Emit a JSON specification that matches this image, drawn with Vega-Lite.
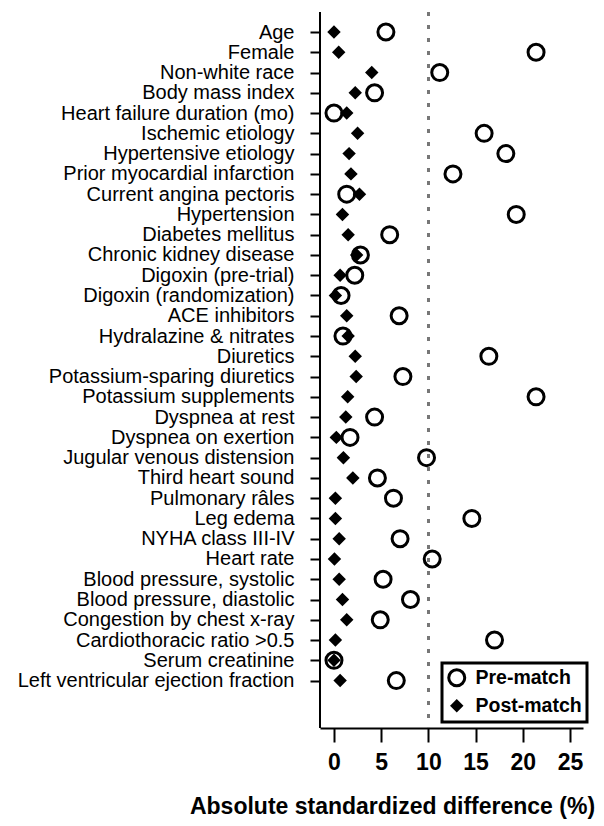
{
  "$schema": "https://vega.github.io/schema/vega-lite/v6.json",
  "width": 263,
  "height": 716,
  "autosize": {"type": "none"},
  "padding": {"left": 320, "top": 12, "right": 21, "bottom": 98},
  "background": "white",
  "config": {
    "view": {"stroke": null},
    "font": "Liberation Sans",
    "axis": {
      "grid": false,
      "domainColor": "black",
      "domainWidth": 2,
      "tickColor": "black",
      "tickWidth": 2,
      "labelColor": "black",
      "titleColor": "black",
      "labelFont": "Liberation Sans",
      "titleFont": "Liberation Sans"
    },
    "legend": {"strokeWidth": 3}
  },
  "data": {
    "values": [
      {"variable": "Age", "match": "Post-match", "diff": 0.0},
      {"variable": "Age", "match": "Pre-match", "diff": 5.5},
      {"variable": "Female", "match": "Post-match", "diff": 0.5},
      {"variable": "Female", "match": "Pre-match", "diff": 21.4},
      {"variable": "Non-white race", "match": "Post-match", "diff": 4.0},
      {"variable": "Non-white race", "match": "Pre-match", "diff": 11.2},
      {"variable": "Body mass index", "match": "Post-match", "diff": 2.25},
      {"variable": "Body mass index", "match": "Pre-match", "diff": 4.3},
      {"variable": "Heart failure duration (mo)", "match": "Post-match", "diff": 1.35},
      {"variable": "Heart failure duration (mo)", "match": "Pre-match", "diff": 0.0},
      {"variable": "Ischemic etiology", "match": "Post-match", "diff": 2.5},
      {"variable": "Ischemic etiology", "match": "Pre-match", "diff": 15.9},
      {"variable": "Hypertensive etiology", "match": "Post-match", "diff": 1.6},
      {"variable": "Hypertensive etiology", "match": "Pre-match", "diff": 18.2},
      {"variable": "Prior myocardial infarction", "match": "Post-match", "diff": 1.8},
      {"variable": "Prior myocardial infarction", "match": "Pre-match", "diff": 12.6},
      {"variable": "Current angina pectoris", "match": "Post-match", "diff": 2.7},
      {"variable": "Current angina pectoris", "match": "Pre-match", "diff": 1.35},
      {"variable": "Hypertension", "match": "Post-match", "diff": 0.9},
      {"variable": "Hypertension", "match": "Pre-match", "diff": 19.3},
      {"variable": "Diabetes mellitus", "match": "Post-match", "diff": 1.5},
      {"variable": "Diabetes mellitus", "match": "Pre-match", "diff": 5.9},
      {"variable": "Chronic kidney disease", "match": "Post-match", "diff": 2.4},
      {"variable": "Chronic kidney disease", "match": "Pre-match", "diff": 2.8},
      {"variable": "Digoxin (pre-trial)", "match": "Post-match", "diff": 0.65},
      {"variable": "Digoxin (pre-trial)", "match": "Pre-match", "diff": 2.2},
      {"variable": "Digoxin (randomization)", "match": "Post-match", "diff": 0.15},
      {"variable": "Digoxin (randomization)", "match": "Pre-match", "diff": 0.75},
      {"variable": "ACE inhibitors", "match": "Post-match", "diff": 1.35},
      {"variable": "ACE inhibitors", "match": "Pre-match", "diff": 6.9},
      {"variable": "Hydralazine & nitrates", "match": "Post-match", "diff": 1.5},
      {"variable": "Hydralazine & nitrates", "match": "Pre-match", "diff": 0.95},
      {"variable": "Diuretics", "match": "Post-match", "diff": 2.25},
      {"variable": "Diuretics", "match": "Pre-match", "diff": 16.4},
      {"variable": "Potassium-sparing diuretics", "match": "Post-match", "diff": 2.35},
      {"variable": "Potassium-sparing diuretics", "match": "Pre-match", "diff": 7.3},
      {"variable": "Potassium supplements", "match": "Post-match", "diff": 1.45},
      {"variable": "Potassium supplements", "match": "Pre-match", "diff": 21.4},
      {"variable": "Dyspnea at rest", "match": "Post-match", "diff": 1.25},
      {"variable": "Dyspnea at rest", "match": "Pre-match", "diff": 4.3},
      {"variable": "Dyspnea on exertion", "match": "Post-match", "diff": 0.25},
      {"variable": "Dyspnea on exertion", "match": "Pre-match", "diff": 1.7},
      {"variable": "Jugular venous distension", "match": "Post-match", "diff": 1.0},
      {"variable": "Jugular venous distension", "match": "Pre-match", "diff": 9.8},
      {"variable": "Third heart sound", "match": "Post-match", "diff": 2.0},
      {"variable": "Third heart sound", "match": "Pre-match", "diff": 4.6},
      {"variable": "Pulmonary râles", "match": "Post-match", "diff": 0.15},
      {"variable": "Pulmonary râles", "match": "Pre-match", "diff": 6.3},
      {"variable": "Leg edema", "match": "Post-match", "diff": 0.15},
      {"variable": "Leg edema", "match": "Pre-match", "diff": 14.6},
      {"variable": "NYHA class III-IV", "match": "Post-match", "diff": 0.55},
      {"variable": "NYHA class III-IV", "match": "Pre-match", "diff": 7.0},
      {"variable": "Heart rate", "match": "Post-match", "diff": 0.05},
      {"variable": "Heart rate", "match": "Pre-match", "diff": 10.4},
      {"variable": "Blood pressure, systolic", "match": "Post-match", "diff": 0.55},
      {"variable": "Blood pressure, systolic", "match": "Pre-match", "diff": 5.2},
      {"variable": "Blood pressure, diastolic", "match": "Post-match", "diff": 0.9},
      {"variable": "Blood pressure, diastolic", "match": "Pre-match", "diff": 8.1},
      {"variable": "Congestion by chest x-ray", "match": "Post-match", "diff": 1.35},
      {"variable": "Congestion by chest x-ray", "match": "Pre-match", "diff": 4.9},
      {"variable": "Cardiothoracic ratio >0.5", "match": "Post-match", "diff": 0.15},
      {"variable": "Cardiothoracic ratio >0.5", "match": "Pre-match", "diff": 17.0},
      {"variable": "Serum creatinine", "match": "Post-match", "diff": 0.0},
      {"variable": "Serum creatinine", "match": "Pre-match", "diff": 0.0},
      {"variable": "Left ventricular ejection fraction", "match": "Post-match", "diff": 0.65},
      {"variable": "Left ventricular ejection fraction", "match": "Pre-match", "diff": 6.6}
    ]
  },
  "layer": [
    {
      "mark": {"type": "rule", "strokeDash": [4, 9], "color": "#777777", "strokeWidth": 2},
      "encoding": {
        "x": {
          "datum": 10,
          "type": "quantitative",
          "scale": {"domain": [-1.48, 26.37], "nice": false, "zero": false},
          "axis": {
            "values": [0, 5, 10, 15, 20, 25],
            "title": "Absolute standardized difference (%)",
            "tickSize": 14,
            "labelFontSize": 23,
            "labelFontWeight": "bold",
            "labelPadding": 9,
            "titleFontSize": 23,
            "titleFontWeight": "bold",
            "titlePadding": 21,
            "titleX": 72,
            "titleAlign": "center"
          }
        }
      }
    },
    {
      "mark": {"type": "rule", "color": "black", "strokeWidth": 2},
      "encoding": {
        "x": {"datum": -1.48, "type": "quantitative"}
      }
    },
    {
      "mark": {"type": "point", "filled": false, "stroke": "black", "strokeWidth": 3, "opacity": 1},
      "encoding": {
        "x": {
          "field": "diff",
          "type": "quantitative",
          "scale": {"domain": [-1.48, 26.37], "nice": false, "zero": false},
          "axis": {
            "values": [0, 5, 10, 15, 20, 25],
            "title": "Absolute standardized difference (%)",
            "tickSize": 14,
            "labelFontSize": 23,
            "labelFontWeight": "bold",
            "labelPadding": 9,
            "titleFontSize": 23,
            "titleFontWeight": "bold",
            "titlePadding": 21,
            "titleX": 72,
            "titleAlign": "center"
          }
        },
        "y": {
          "field": "variable",
          "type": "nominal",
          "sort": null,
          "scale": {"type": "point", "padding": 0, "range": [20, 668.6]},
          "axis": {
            "title": null,
            "domain": false,
            "tickSize": 10,
            "labelFontSize": 20,
            "labelPadding": 16,
            "labelLimit": 400
          }
        },
        "shape": {
          "field": "match",
          "type": "ordinal",
          "scale": {"domain": ["Pre-match", "Post-match"], "range": ["circle", "diamond"]},
          "legend": {
            "orient": "none",
            "legendX": 122,
            "legendY": 651,
            "title": null,
            "labelFont": "Liberation Sans",
            "labelFontSize": 19.5,
            "labelFontWeight": "bold",
            "labelColor": "black",
            "padding": 5,
            "rowPadding": 3,
            "labelOffset": 9,
            "strokeColor": "black",
            "fillColor": "white",
            "symbolStrokeColor": "black",
            "symbolStrokeWidth": 3
          }
        },
        "fill": {
          "field": "match",
          "type": "ordinal",
          "scale": {"domain": ["Pre-match", "Post-match"], "range": ["transparent", "black"]}
        },
        "size": {
          "field": "match",
          "type": "ordinal",
          "scale": {"domain": ["Pre-match", "Post-match"], "range": [256, 85]}
        }
      }
    }
  ]
}
